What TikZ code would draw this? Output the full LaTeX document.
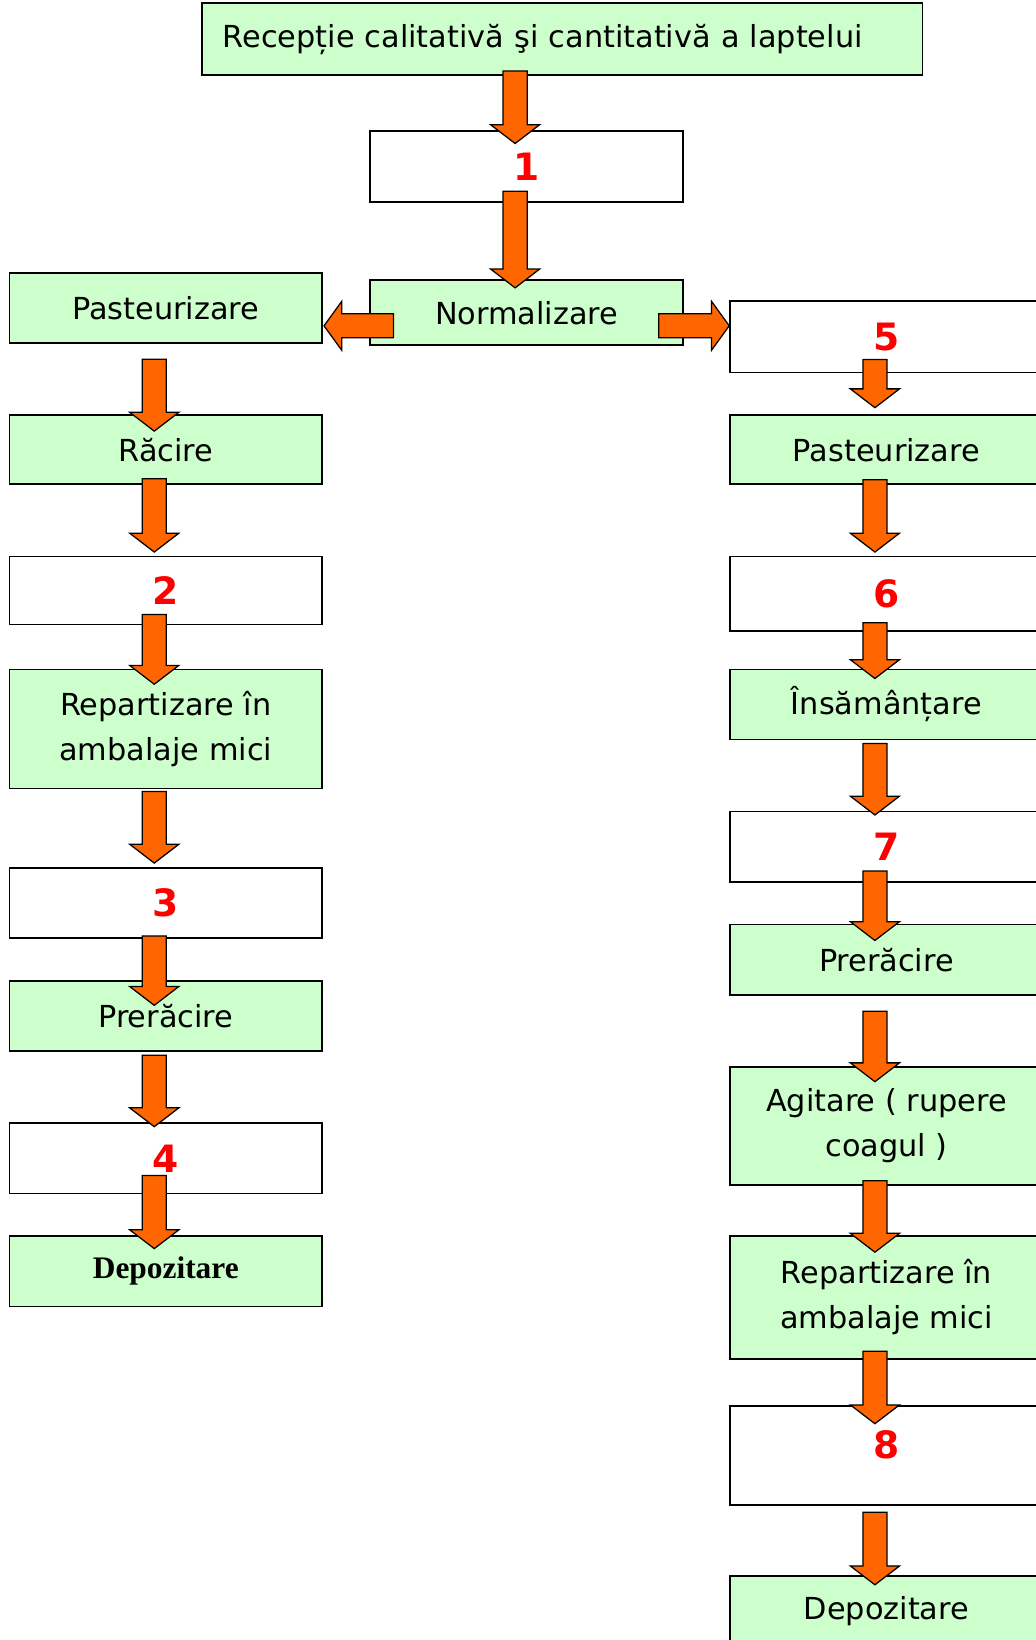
\documentclass[tikz,border=0pt]{standalone}
\usepackage{fontspec}
\setmainfont{DejaVu Sans}
\newfontfamily\boldserif{Liberation Serif}
\usepackage{xcolor}
\usepackage{tikz}
\usetikzlibrary{calc}

\definecolor{stepgreen}{HTML}{CCFFCC}
\definecolor{flowarrow}{HTML}{FF6600}
\definecolor{numred}{HTML}{FF0000}

\begin{document}
\begin{tikzpicture}[
  x=0.5pt, y=-0.5pt,
  box/.style={draw, line width=0.8pt, minimum width=149.5pt, minimum height=33.5pt, inner sep=0pt, align=center, font=\fontsize{14.5}{21.5}\selectfont},
  stage/.style={box, fill=stepgreen},
  blank/.style={box, fill=white, text=numred, font=\fontsize{18}{20}\selectfont\bfseries},
  fatdown/.style={draw=black, line width=0.6pt, fill=flowarrow,
    to path={let \p1=(\tikztostart), \p2=(\tikztotarget) in
      (\x1-11.25pt,\y1) -- (\x1+0.25pt,\y1) -- (\x1+0.25pt,\y2+9pt) -- (\x1+6.25pt,\y2+9pt)
      -- (\x1-5.5pt,\y2) -- (\x1-17.25pt,\y2+9pt) -- (\x1-11.25pt,\y2+9pt) -- cycle}},
  fatside/.style={draw=black, line width=0.6pt, fill=flowarrow,
    to path={let \p1=(\tikztostart), \p2=(\tikztotarget) in
      (\x1,\y1-5.75pt) -- (\x2#1,\y1-5.75pt) -- (\x2#1,\y1-11.75pt) -- (\x2,\y1)
      -- (\x2#1,\y1+11.75pt) -- (\x2#1,\y1+5.75pt) -- (\x1,\y1+5.75pt) -- cycle}},
]
\useasboundingbox (0,0) rectangle (990,1568);

% Reception and first steps
\node[stage, minimum width=344.5pt, minimum height=34.5pt, text width=324.5pt, align=left, inner xsep=10pt] (rec) at (537.5,37.5) {Recepție calitativă şi cantitativă a laptelui};
\node[blank, minimum height=34pt] (b1) at (503.5,159) {1};
\node[stage, minimum height=31pt] (norm) at (503.5,299) {Normalizare};

% Left branch
\node[stage] (pastL) at (158.5,294.5) {Pasteurizare};
\node[stage, minimum height=33pt] (racL) at (158.5,430) {Răcire};
\node[blank, minimum height=32.5pt] (b2) at (158.5,564.5) {2};
\node[stage, minimum height=57pt] (repL) at (158.5,697) {Repartizare în\\ambalaje mici};
\node[blank] (b3) at (158.5,863.5) {3};
\node[stage] (preL) at (158.5,971.5) {Prerăcire};
\node[blank] (b4) at (158.5,1107.5) {4};
\node[stage, font=\boldserif\bfseries\fontsize{15}{18}\selectfont] (depL) at (158.5,1215.5) {Depozitare};

% Right branch
\node[blank, minimum height=34pt] (b5) at (847.5,322) {5};
\node[stage, minimum height=33pt] (pastR) at (847.5,430) {Pasteurizare};
\node[blank, minimum height=35.5pt] (b6) at (847.5,567.5) {6};
\node[stage] (insR) at (847.5,673.5) {Însămânțare};
\node[blank] (b7) at (847.5,809.5) {7};
\node[stage] (preR) at (847.5,917.5) {Prerăcire};
\node[stage, minimum height=56.5pt] (agiR) at (847.5,1076.5) {Agitare ( rupere\\coagul )};
\node[stage, minimum height=58.5pt] (repR) at (847.5,1240.5) {Repartizare în\\ambalaje mici};
\node[blank, minimum height=47.5pt, text depth=10.5pt] (b8) at (847.5,1391.5) {8};
\node[stage] (depR) at (847.5,1540.5) {Depozitare};

% Arrows
\draw[fatdown] ([yshift=2.5pt]b1.north |- rec.south) to ([yshift=-6.5pt]b1.north);
\draw[fatdown] ([yshift=5.5pt]b1.south) to ([yshift=-4pt]norm.north);
\draw[fatside=+8.5pt] ([shift={(11.5pt,-6.25pt)}]norm.west) to ([xshift=0.5pt]pastL.east);
\draw[fatside=-8.5pt] ([shift={(-12pt,-6.25pt)}]norm.east) to (b5.west);

\draw[fatdown] ([yshift=-7.35pt]pastL.south) to ([yshift=-8pt]racL.north);
\draw[fatdown] ([yshift=3pt]racL.south) to ([yshift=1.7pt]b2.north);
\draw[fatdown] ([yshift=5.2pt]b2.south) to ([yshift=-7.5pt]repL.north);
\draw[fatdown] ([yshift=-1pt]repL.south) to ([yshift=2pt]b3.north);
\draw[fatdown] ([yshift=1.5pt]b3.south) to ([yshift=-12pt]preL.north);
\draw[fatdown] ([yshift=-1.5pt]preL.south) to ([yshift=-2pt]b4.north);
\draw[fatdown] ([yshift=9pt]b4.south) to ([yshift=-6.3pt]depL.north);

\draw[fatdown] ([yshift=6.5pt]b5.south) to ([yshift=3.2pt]pastR.north);
\draw[fatdown] ([yshift=2.5pt]pastR.south) to ([yshift=1.7pt]b6.north);
\draw[fatdown] ([yshift=4.15pt]b6.south) to ([yshift=-4.75pt]insR.north);
\draw[fatdown] ([yshift=-1.5pt]insR.south) to ([yshift=-2pt]b7.north);
\draw[fatdown] ([yshift=5.5pt]b7.south) to ([yshift=-8pt]preR.north);
\draw[fatdown] ([yshift=-7.5pt]preR.south) to ([yshift=-7.5pt]agiR.north);
\draw[fatdown] ([yshift=2.5pt]agiR.south) to ([yshift=-8pt]repR.north);
\draw[fatdown] ([yshift=4pt]repR.south) to ([yshift=-9pt]b8.north);
\draw[fatdown] ([yshift=-3pt]b8.south) to ([yshift=-4.5pt]depR.north);

\end{tikzpicture}
\end{document}
